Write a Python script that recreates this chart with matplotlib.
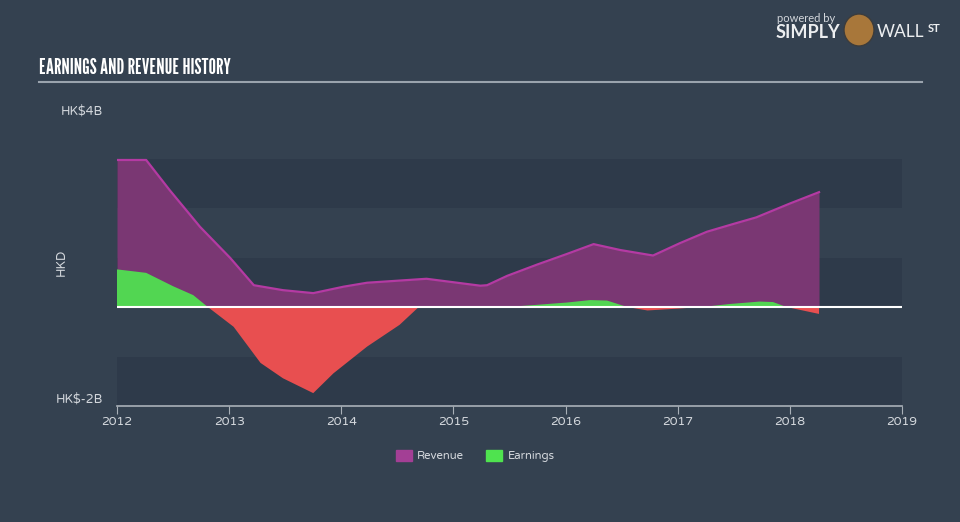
import matplotlib

matplotlib.use("Agg")

import matplotlib.pyplot as plt
import numpy as np
from matplotlib import font_manager
from matplotlib.patches import Patch, Ellipse

# ── data (HK$ billions) ──────────────────────────────────────────────────────
rev_years = [2012.0, 2012.26, 2012.47, 2012.74, 2013.01, 2013.22, 2013.48, 2013.75,
             2014.02, 2014.23, 2014.76, 2015.0, 2015.24, 2015.30, 2015.48, 2015.75,
             2016.01, 2016.25, 2016.49, 2016.78, 2017.02, 2017.26, 2017.50, 2017.70,
             2018.0, 2018.26]
revenue = [2.97, 2.97, 2.36, 1.62, 0.99, 0.44, 0.34, 0.28,
           0.41, 0.49, 0.57, 0.50, 0.43, 0.44, 0.63, 0.86,
           1.07, 1.27, 1.15, 1.04, 1.29, 1.52, 1.68, 1.81,
           2.09, 2.32]

earn_years = [2012.0, 2012.26, 2012.50, 2012.68, 2012.81, 2013.04, 2013.28, 2013.48,
              2013.75, 2013.93, 2014.23, 2014.52, 2014.70, 2015.0, 2015.24, 2015.48,
              2015.72, 2016.01, 2016.22, 2016.37, 2016.55, 2016.73, 2017.02, 2017.26,
              2017.46, 2017.73, 2017.85, 2017.97, 2018.26]
earnings = [0.76, 0.69, 0.42, 0.24, 0.0, -0.40, -1.13, -1.44,
            -1.74, -1.34, -0.80, -0.36, 0.02, 0.01, -0.02, 0.0,
            0.04, 0.09, 0.14, 0.13, 0.0, -0.07, -0.03, 0.01,
            0.06, 0.11, 0.10, 0.0, -0.14]

x_ticks = [2012, 2013, 2014, 2015, 2016, 2017, 2018, 2019]
y_ticks = [-2, 4]
y_tick_labels = ["HK$-2B", "HK$4B"]

BG = "#344150"
BAND = "#2e3a4a"
REV_FILL = "#7a3773"
REV_LINE = "#b43aa3"
GREEN = "#52d652"
RED = "#e84f50"
TEXT = "#d3d7dc"

fonts = font_manager.fontManager.ttflist
installed = {f.name for f in fonts}
bold_ok = {f.name for f in fonts if f.weight in (700, "bold")}


def pick(*names, need_bold=False):
    for n in names:
        if n in installed and (not need_bold or n in bold_ok):
            return [n, "DejaVu Sans"]
    return ["DejaVu Sans"]


TITLE_FONT = pick("League Gothic", "Antonio", "Bebas Neue", "Fjalla One", "Oswald")
BODY_FONT = pick("Varela Round", "Quicksand", "Nunito", "Lato")
BRAND_FONT = pick("Montserrat", "Raleway", "Lato", need_bold=True)
plt.rcParams["font.family"] = BODY_FONT

fig = plt.figure(figsize=(9.6, 5.22), dpi=100, facecolor=BG)
ax = fig.add_axes([117 / 960, 1 - 406 / 522, 785 / 960, 297 / 522])
ax.set_facecolor(BG)

# alternating horizontal bands
for lo, hi in [(2, 3), (0, 1), (-2, -1)]:
    ax.axhspan(lo, hi, color=BAND, lw=0, zorder=0)

ry = np.array(rev_years)
rv = np.array(revenue)
ax.fill_between(ry, 0, rv, color=REV_FILL, lw=0, zorder=2)
ax.plot(ry, rv, color=REV_LINE, lw=1.6, zorder=3)

ey = np.array(earn_years)
ev = np.array(earnings)
ax.fill_between(ey, 0, ev, where=ev >= 0, interpolate=True, color=GREEN, lw=0, zorder=4)
ax.fill_between(ey, 0, ev, where=ev <= 0, interpolate=True, color=RED, lw=0, zorder=4)

ax.axhline(0, color="white", lw=1.5, zorder=5)

ax.set_xlim(2012, 2019)
ax.set_ylim(-2, 4)
ax.set_xticks(x_ticks)
ax.set_xticklabels([str(y) for y in x_ticks], color=TEXT, fontsize=8.9)
ax.set_yticks(y_ticks)
ax.set_yticklabels(y_tick_labels, color=TEXT, fontsize=9)
ax.tick_params(axis="x", length=6, color="#a9b0b8", pad=2)
ax.tick_params(axis="y", length=0, pad=10)
ax.get_yticklabels()[0].set_va("bottom")
for side in ["top", "right", "left"]:
    ax.spines[side].set_visible(False)
ax.spines["bottom"].set_color("#a9b0b8")
ax.spines["bottom"].set_linewidth(1.2)

fig.text(61 / 960, 1 - 262 / 522, "HKD", rotation=90, color=TEXT, fontsize=9,
         ha="center", va="center")

# title + rule
fig.text(39 / 960, 1 - 68 / 522, "EARNINGS AND REVENUE HISTORY",
         family=TITLE_FONT, fontsize=15, color="white", va="center", ha="left")
fig.add_artist(plt.Line2D([39 / 960, 922 / 960], [1 - 82 / 522] * 2,
                          color="#9aa3ad", lw=1.5))

# branding
fig.text(777 / 960, 1 - 18 / 522, "powered by", color=TEXT, fontsize=8,
         family=BRAND_FONT, ha="left", va="center")
fig.text(776 / 960, 1 - 32 / 522, "SIMPLY", color="#eceef0", fontsize=13,
         family=BRAND_FONT, fontweight="bold", ha="left", va="center")
fig.add_artist(Ellipse((859 / 960, 1 - 30 / 522), 30 / 960, 32 / 522,
                       transform=fig.transFigure, color="#a8773a", ec="#3c3c3c", lw=1))
fig.text(877 / 960, 1 - 32 / 522, "WALL", color="#eceef0", fontsize=12.5,
         family=BRAND_FONT, ha="left", va="center")
fig.text(928 / 960, 1 - 29 / 522, "ST", color="#eceef0", fontsize=8,
         family=BRAND_FONT, fontweight="bold", ha="left", va="center")

handles = [Patch(color="#a33f95", label="Revenue"), Patch(color="#4fe34f", label="Earnings")]
leg = fig.legend(handles=handles, loc="center", bbox_to_anchor=(475 / 960, 1 - 456 / 522),
                 ncol=2, frameon=False, fontsize=8.2, handlelength=1.45, handleheight=1.1,
                 columnspacing=1.9, handletextpad=0.45)
for t in leg.get_texts():
    t.set_color(TEXT)

fig.savefig("out.png", dpi=100, facecolor=BG)
